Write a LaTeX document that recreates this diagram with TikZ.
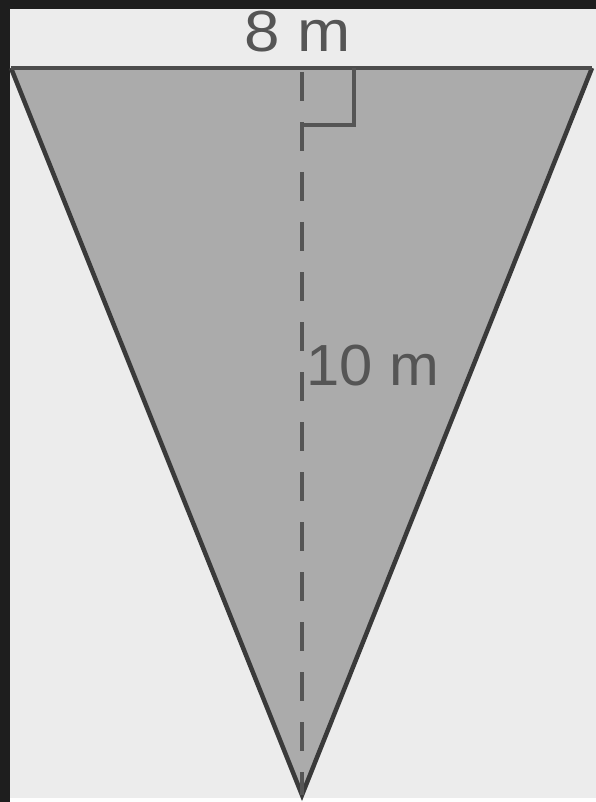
\documentclass[tikz,border=0pt]{standalone}
\usepackage{fontspec}
\setmainfont{Liberation Sans}
\usepackage{graphicx}
\definecolor{frame}{HTML}{1E1E1E}
\definecolor{bg}{HTML}{ECECEC}
\definecolor{tri}{HTML}{ABABAB}
\definecolor{edge}{HTML}{3A3A3A}
\definecolor{txt}{HTML}{555555}
\tikzset{
  lbl/.style={inner sep=0pt, text=txt, font=\fontsize{58}{60}\selectfont},
  side/.style={draw=edge, line width=4.5pt, line join=miter},
  heightline/.style={draw=txt, line width=3.5pt, dash pattern=on 29pt off 21pt},
  rmark/.style={draw=txt, line width=3.5pt}
}
\begin{document}
\begin{tikzpicture}[x=1pt,y=-1pt]
\fill[frame] (0,0) rectangle (596,802);
\fill[bg] (10,9) rectangle (596,798);
\fill[white!95!bg] (10,798) rectangle (596,802);
\useasboundingbox (0,0) rectangle (596,802);
\coordinate (A) at (11,68);
\coordinate (B) at (592,68);
\coordinate (C) at (302,795);
\coordinate (M) at (302,68);
\fill[tri] (A) -- (B) -- (C) -- cycle;
\draw[side] (A) -- (C) -- (B);
\draw[draw=txt!90!black, line width=4.5pt] (A) -- (B);
\draw[heightline] (302,72) -- (C);
\draw[rmark] (M) ++(52,0) -- ++(0,57) -- ++(-52,0);
\node[lbl, anchor=base] (w) at (298,52) {\scalebox{1.1}[1]{8 m}};
\node[lbl, anchor=base west] (h) at (306,385) {\scalebox{1.03}[1]{10 m}};
\end{tikzpicture}
\end{document}
